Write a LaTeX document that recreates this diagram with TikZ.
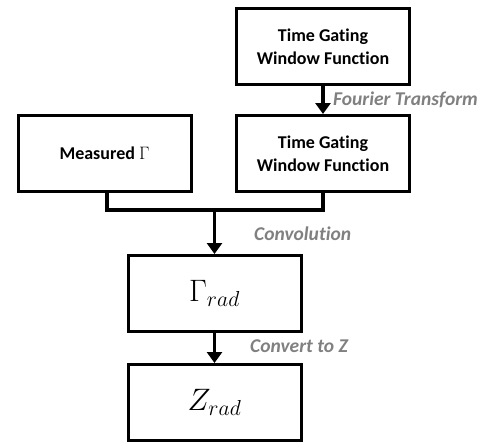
\RequirePackage{fix-cm}
\documentclass[tikz,border=0pt]{standalone}
\usepackage{fontspec}
\setmainfont[Ligatures=NoCommon]{Carlito}
\usetikzlibrary{arrows.meta}
\begin{document}
\begin{tikzpicture}[x=1pt,y=-1pt,
  box/.style={draw=black,line width=3pt,minimum width=173pt,minimum height=76pt,inner sep=0pt,align=center,font=\bfseries\fontsize{18}{23}\selectfont},
  mbox/.style={box,font=\fontsize{31}{35}\selectfont},
  conn/.style={line width=3.5pt},
  arr/.style={conn,-{Triangle[length=11pt,width=15pt]}},
  lab/.style={text=black!50,font=\bfseries\itshape\fontsize{19.5}{22}\selectfont,anchor=west,inner sep=0pt}]
\useasboundingbox (0,0) rectangle (496,445);
\node[box] (tg1) at (323,46.5) {Time Gating\\Window Function};
\node[box] (tg2) at (323,153.5) {Time Gating\\Window Function};
\node[box] (meas) at (104.5,153.5) {Measured $\Gamma$};
\node[mbox] (grad) at (214.5,293.5) {$\Gamma_{rad}$};
\node[mbox] (zrad) at (214.5,402.5) {$Z_{rad}$};
\coordinate (j) at (214.5,210);
\coordinate (jl) at (107,210);
\coordinate (jr) at (323,210);
\draw[arr] (tg1) -- (tg2);
\draw[conn,line cap=rect] (meas.south -| jl) -- (jl) -- (jr) -- (tg2.south);
\draw[arr] (j) -- (grad);
\draw[arr] (grad) -- (zrad);
\node[lab] (ft) at (333,100) {Fourier Transform};
\node[lab] (cv) at (254,234) {Convolution};
\node[lab] (cz) at (250,346) {Convert to Z};
\end{tikzpicture}
\end{document}
